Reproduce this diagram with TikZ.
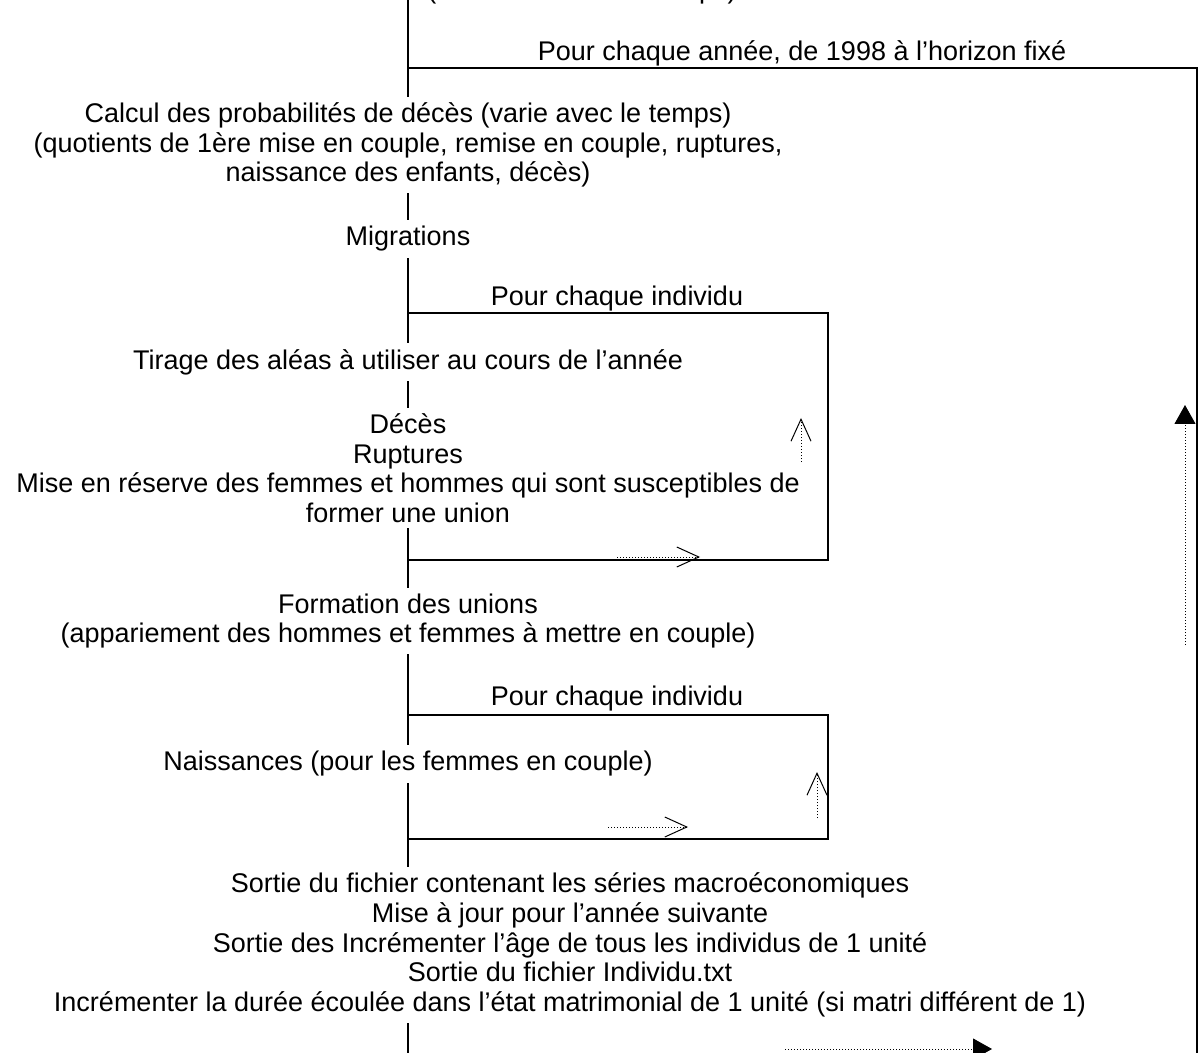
\documentclass[tikz,border=0pt]{standalone}
\usepackage{fontspec}
\setmainfont{Liberation Sans}
\usetikzlibrary{arrows.meta,positioning}
\begin{document}
\begin{tikzpicture}[x=0.5pt,y=-0.5pt,font=\fontsize{13.5}{14.8}\selectfont,
	main node/.style={fill=white, align=center, inner xsep=2pt, inner ysep=3pt},
	loop line/.style={line width=1pt},
	open arrow/.style={densely dotted, line width=0.5pt, -{Straight Barb[length=11pt,width=10pt]}},
	full arrow/.style={densely dotted, line width=0.5pt, -{Triangle[length=9.5pt,width=10.5pt]}}]
			\useasboundingbox (0,0) rectangle (1199,1053);
			
			\coordinate (top) at (408,0);
			\coordinate (bot) at (408,1053);
			\draw[loop line] (top) -- (bot);
			
			\coordinate (a1) at (408,68);
			\coordinate (a2) at (1197,68);
			\coordinate (a3) at (1197,1053);
			\coordinate (b1) at (408,313);
			\coordinate (b2) at (828,560);
			\coordinate (b3) at (408,560);
			\coordinate (c1) at (408,715);
			\coordinate (c2) at (828,839);
			\coordinate (c3) at (408,839);
			
			\node (0) [anchor=base] at (582,-1) {(invariants dans le temps)};
			\node (8) at (802,53) {Pour chaque année, de 1998 à l’horizon fixé};
			\node (9) at (617,299) {Pour chaque individu};
			\node (10) at (617,699) {Pour chaque individu};
			
			\node[main node] (1) at (408,145) {Calcul des probabilités de décès (varie avec le temps)\\(quotients de 1ère mise en couple, remise en couple, ruptures,\\naissance des enfants, décès)};
			\node[main node] (2) at (408,239) {Migrations};
			\node[main node] (3) at (408,362) {Tirage des aléas à utiliser au cours de l’année};
			\node[main node] (4) at (408,468) {Décès\\Ruptures\\Mise en réserve des femmes et hommes qui sont susceptibles de\\former une union};
			\node[main node] (5) at (408,621) {Formation des unions\\(appariement des hommes et femmes à mettre en couple)};
			\node[main node] (6) at (408,764) {Naissances (pour les femmes en couple)};
			\node[main node] (7) at (570,945) {Sortie du fichier contenant les séries macroéconomiques\\Mise à jour pour l’année suivante\\Sortie des Incrémenter l’âge de tous les individus de 1 unité\\Sortie du fichier Individu.txt\\Incrémenter la durée écoulée dans l’état matrimonial de 1 unité (si matri différent de 1)};
			
			\draw[loop line] (a1) -- (a2) -- (a3);
			\draw[loop line] (b1) -| (b2) -- (b3);
			\draw[loop line] (c1) -| (c2) -- (c3);
			
			\coordinate (d1) at (617,557);
			\coordinate (d2) at (700,557);
			\coordinate (e1) at (801,462);
			\coordinate (e2) at (801,418);
			\coordinate (f1) at (608,827);
			\coordinate (f2) at (688,827);
			\coordinate (g1) at (817,818);
			\coordinate (g2) at (817,772);
			\coordinate (h1) at (1185,645);
			\coordinate (h2) at (1185,405);
			\coordinate (k1) at (785,1049);
			\coordinate (k2) at (992,1049);
			
			\draw[open arrow] (d1) -- (d2);
			\draw[open arrow] (e1) -- (e2);
			\draw[open arrow] (f1) -- (f2);
			\draw[open arrow] (g1) -- (g2);
			\draw[full arrow] (h1) -- (h2);
			\draw[full arrow] (k1) -- (k2);
\end{tikzpicture}
\end{document}
